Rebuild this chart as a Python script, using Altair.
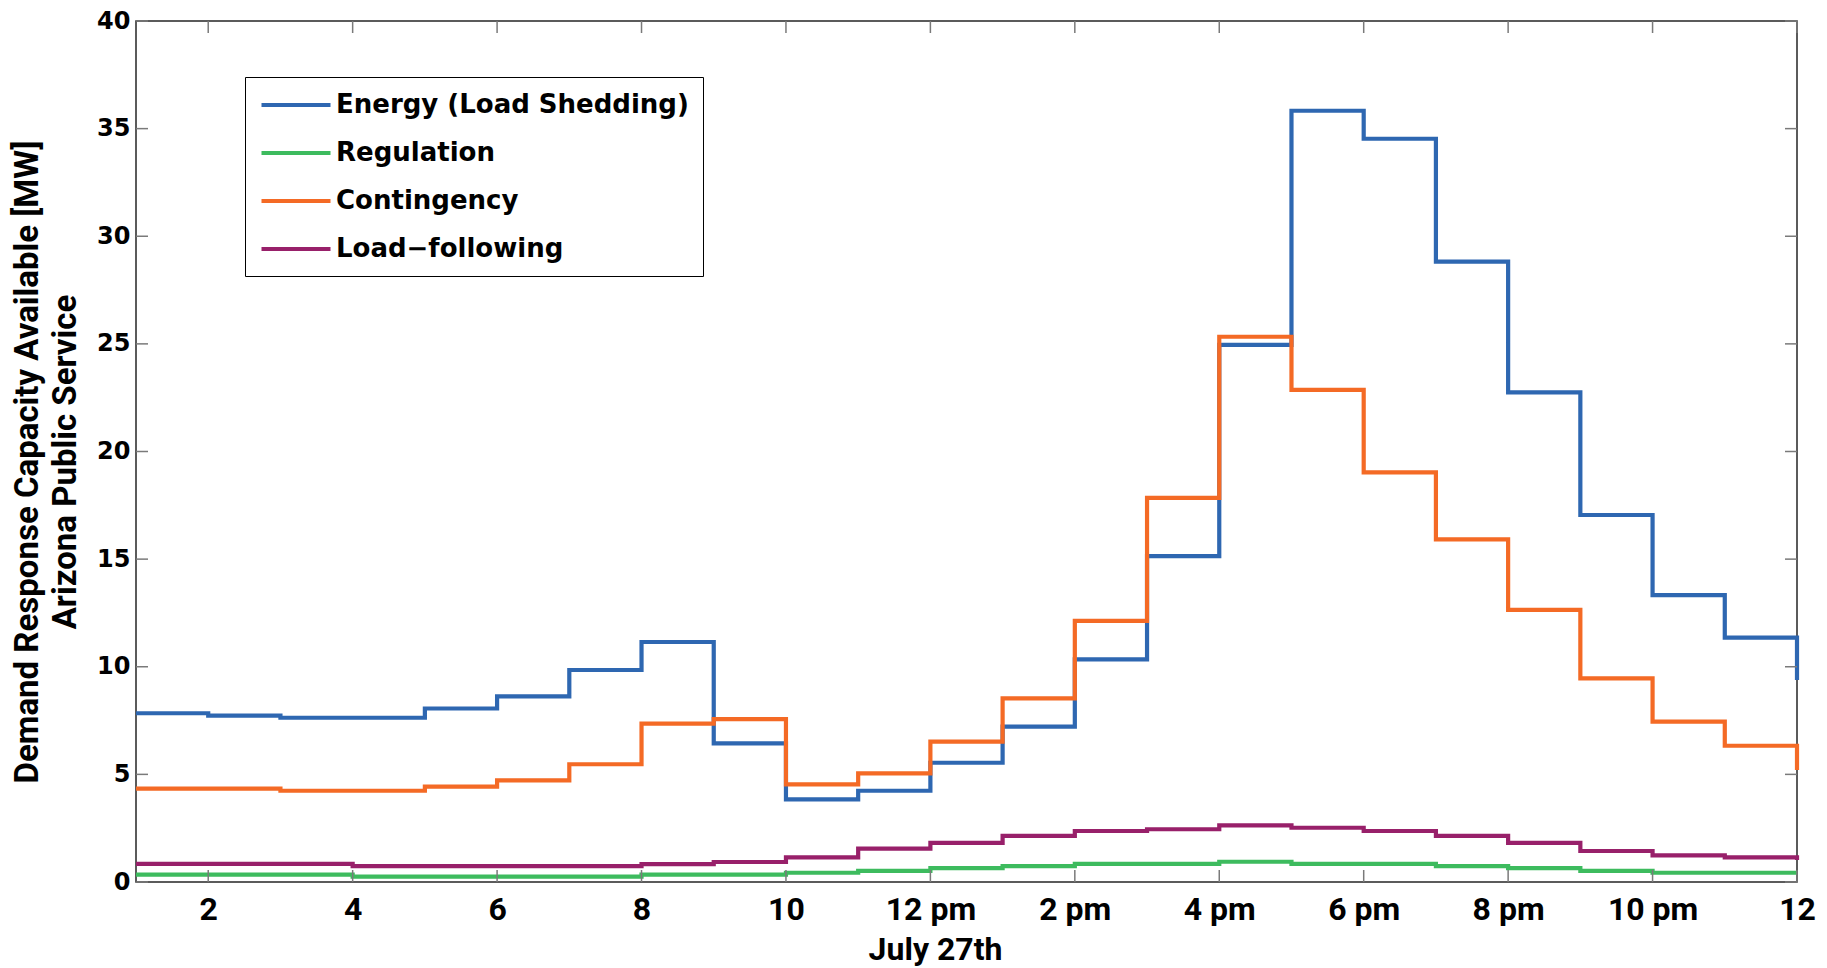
import altair as alt
import pandas as pd

hours = list(range(1, 25))
series_names = ["Energy (Load Shedding)", "Regulation", "Contingency", "Load\u2212following"]
series_colors = ["#2e67b1", "#3dbb5e", "#f46a25", "#98206a"]

energy = [7.84, 7.73, 7.63, 7.63, 8.06, 8.62, 9.85, 11.15, 6.44, 3.84, 4.24, 5.54,
          7.22, 10.34, 15.14, 24.95, 35.83, 34.53, 28.82, 22.75, 17.05, 13.33, 11.35, 9.38]
regulation = [0.34, 0.34, 0.34, 0.25, 0.25, 0.25, 0.25, 0.34, 0.34, 0.43, 0.52, 0.64,
              0.74, 0.84, 0.84, 0.94, 0.84, 0.84, 0.74, 0.64, 0.52, 0.43, 0.43, 0.43]
contingency = [4.34, 4.34, 4.24, 4.24, 4.43, 4.72, 5.47, 7.36, 7.57, 4.54, 5.05, 6.52,
               8.53, 12.13, 17.85, 25.33, 22.86, 19.03, 15.92, 12.64, 9.46, 7.45, 6.33, 5.2]
load_following = [0.84, 0.84, 0.84, 0.74, 0.74, 0.74, 0.74, 0.83, 0.93, 1.14, 1.55, 1.82,
                  2.14, 2.37, 2.45, 2.63, 2.52, 2.37, 2.14, 1.82, 1.44, 1.24, 1.14, 1.02]

y_ticks = [0, 5, 10, 15, 20, 25, 30, 35, 40]
x_ticks = [2, 4, 6, 8, 10, 12, 14, 16, 18, 20, 22, 24]
x_tick_labels = ["2", "4", "6", "8", "10", "12 pm", "2 pm", "4 pm", "6 pm", "8 pm", "10 pm", "12"]

x_title = "July 27th"
y_title = ["Demand Response Capacity Available [MW]", "Arizona Public Service"]

rows = []
for name, vals in zip(series_names, [energy, regulation, contingency, load_following]):
    for h, v in zip(hours, vals):
        rows.append({"hour": h, "value": v, "series": name})
df = pd.DataFrame(rows)

label_expr = "''"
for v, l in reversed(list(zip(x_ticks, x_tick_labels))):
    label_expr = f"datum.value == {v} ? '{l}' : ({label_expr})"

W, H = 1661, 861
TICK = 12
xscale = alt.Scale(domain=[1, 24], nice=False, zero=False)
yscale = alt.Scale(domain=[0, 40], nice=False, zero=False)

lines = alt.Chart(df).mark_line(interpolate="step-after", strokeWidth=4.2).encode(
    x=alt.X("hour:Q", scale=xscale,
            axis=alt.Axis(values=x_ticks, labelExpr=label_expr, title=x_title,
                          labelFont="Roboto", labelFontSize=32, labelFontWeight="bold",
                          labelColor="black", labelPadding=12, labelFlush=False,
                          titleFont="Roboto", titleFontSize=32, titleFontWeight="bold",
                          titleColor="black", titlePadding=9, titleX=799,
                          domain=False, ticks=False, grid=False)),
    y=alt.Y("value:Q", scale=yscale,
            axis=alt.Axis(values=y_ticks, title=y_title,
                          labelFont="DejaVu Sans", labelFontSize=24, labelFontWeight="bold",
                          labelColor="black", labelPadding=6,
                          titleFont="Roboto", titleFontSize=33, titleFontWeight="bold",
                          titleColor="black", titleLineHeight=38, titlePadding=14,
                          titleY=H / 2 + 10,
                          domain=False, ticks=False, grid=False)),
    color=alt.Color("series:N",
                    scale=alt.Scale(domain=series_names, range=series_colors),
                    legend=alt.Legend(title=None, orient="none", legendX=109, legendY=56,
                                      strokeColor="black", fillColor="white", padding=14,
                                      symbolType="M-1,0H5", symbolSize=529,
                                      symbolStrokeWidth=4.2,
                                      labelFont="DejaVu Sans", labelFontSize=26,
                                      labelFontWeight="bold", labelColor="black",
                                      labelLimit=800,
                                      rowPadding=21, labelOffset=49,
                                      labelExpr="datum.label + '\u00a0\u00a0\u00a0\u00a0'")),
)

ytick_df = pd.DataFrame({"value": y_ticks})
xtick_df = pd.DataFrame({"hour": x_ticks})
tick_style = dict(color="#7a7a7a", strokeWidth=1.5)

ytl = alt.Chart(ytick_df).mark_rule(**tick_style).encode(
    y=alt.Y("value:Q", scale=yscale), x=alt.value(0), x2=alt.value(TICK))
ytr = alt.Chart(ytick_df).mark_rule(**tick_style).encode(
    y=alt.Y("value:Q", scale=yscale), x=alt.value(W - TICK), x2=alt.value(W))
xtb = alt.Chart(xtick_df).mark_rule(**tick_style).encode(
    x=alt.X("hour:Q", scale=xscale), y=alt.value(H - TICK), y2=alt.value(H))
xtt = alt.Chart(xtick_df).mark_rule(**tick_style).encode(
    x=alt.X("hour:Q", scale=xscale), y=alt.value(0), y2=alt.value(TICK))

chart = alt.layer(lines, ytl, ytr, xtb, xtt).properties(
    width=W, height=H,
    padding={"left": 128, "top": 13, "right": 22, "bottom": 86},
    autosize=alt.AutoSizeParams(type="none"),
).configure_view(
    stroke="#262626", strokeWidth=1.5
)

chart.save("out.html", embed_options={"renderer": "svg", "actions": False})
